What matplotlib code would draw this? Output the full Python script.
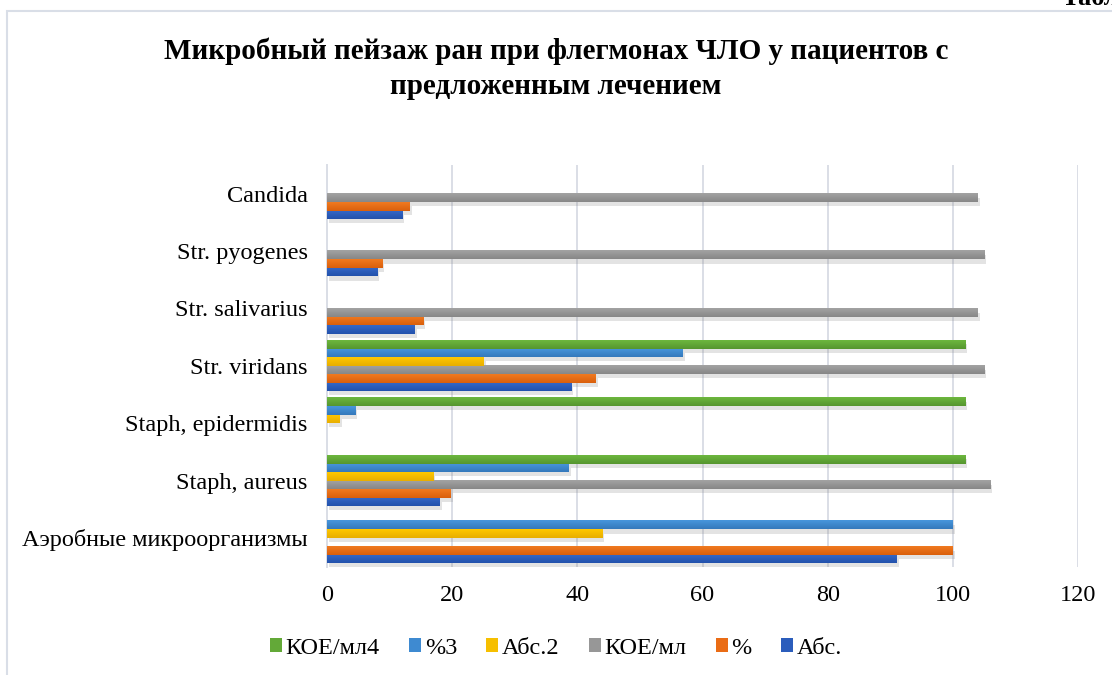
import numpy as np
import matplotlib
matplotlib.use("Agg")
import matplotlib.pyplot as plt
from matplotlib import patheffects as pe
from matplotlib.patches import Rectangle, Patch
from matplotlib.colors import LinearSegmentedColormap

# ---- data ----
categories = ["Аэробные микроорганизмы", "Staph, aureus", "Staph, epidermidis",
              "Str. viridans", "Str. salivarius", "Str. pyogenes", "Candida"]
series_names = ["Абс.", "%", "КОЕ/мл", "Абс.2", "%3", "КОЕ/мл4"]
abs1 = [91, 18, np.nan, 39, 14, 8, 12]
pct1 = [100, 19.8, np.nan, 42.9, 15.4, 8.8, 13.2]
koe1 = [np.nan, 106, np.nan, 105, 104, 105, 104]
abs2 = [44, 17, 2, 25, np.nan, np.nan, np.nan]
pct2 = [100, 38.6, 4.5, 56.8, np.nan, np.nan, np.nan]
koe2 = [np.nan, 102, 102, 102, np.nan, np.nan, np.nan]
series_values = [abs1, pct1, koe1, abs2, pct2, koe2]
colors = ["#2B5DBC", "#EA6C15", "#979797", "#F6BF00", "#3E8AD1", "#63A938"]
grad_top = ["#3568C8", "#F07A20", "#A3A3A3", "#FFC800", "#4796DC", "#6DB73E"]
grad_bot = ["#2352AC", "#DA5F0C", "#878787", "#E8AE00", "#3579BC", "#56962F"]
xticks = [0, 20, 40, 60, 80, 100, 120]

W, H = 1112, 675
plt.rcParams['font.family'] = ['Liberation Serif', 'DejaVu Serif']
fig = plt.figure(figsize=(W / 100, H / 100), dpi=100)

# outer chart frame
fig.patches.append(Rectangle((7 / W, -0.05), 1.2, 1 - 11 / H + 0.05, transform=fig.transFigure,
                             fill=False, edgecolor="#D9DEE7", linewidth=1.5))

x0, x1 = 327, 1078
ytop, ybot = 164.8, 566.7
ax = fig.add_axes([x0 / W, 1 - ybot / H, (x1 - x0) / W, (ybot - ytop) / H])

n = len(categories)
h = 0.148
y = np.arange(n)
shadow = [pe.SimplePatchShadow(offset=(1.5, -3), shadow_rgbFace="#808080", alpha=0.22), pe.Normal()]
grad = np.linspace(0, 1, 32).reshape(-1, 1)
for k, (vals, c, name) in enumerate(zip(series_values, colors, series_names)):
    bars = ax.barh(y + (k - 2.5) * h, vals, height=h, color=c, label=name, zorder=3)
    cmap = LinearSegmentedColormap.from_list(f"g{k}", [grad_top[k], grad_bot[k]])
    for b in bars:
        b.set_path_effects(shadow)
        bw = b.get_width()
        if not np.isfinite(bw) or bw <= 0:
            continue
        by, bh = b.get_y(), b.get_height()
        ax.imshow(grad, extent=[0, bw, by, by + bh], origin='upper', aspect='auto',
                  cmap=cmap, zorder=3.5, interpolation='bilinear')

ax.set_xlim(0, 120)
ax.set_ylim(-0.5, n - 0.5)
ax.set_xticks(xticks)
ax.set_yticks(y)
ax.set_yticklabels(categories)
ax.tick_params(axis='both', length=0, labelsize=17.5, colors="#000000")
ax.tick_params(axis='x', pad=13)
ax.tick_params(axis='y', pad=14)
ax.grid(axis='x', color="#DADEE6", linewidth=1.4, zorder=0)
for s in ["top", "right", "bottom"]:
    ax.spines[s].set_visible(False)
ax.spines["left"].set_color("#DADEE6")
ax.spines["left"].set_linewidth(1.4)

fig.text(0.5, 1 - 51 / H, "Микробный пейзаж ран при флегмонах ЧЛО у пациентов с",
         ha='center', va='center', fontsize=21, fontweight='bold')
fig.text(0.5, 1 - 86 / H, "предложенным лечением",
         ha='center', va='center', fontsize=21, fontweight='bold')
fig.text(1062 / W, 1 - 5 / H, "Таблица", ha='left', va='baseline', fontsize=19, fontweight='bold')

handles = [Patch(facecolor=c, label=nm) for c, nm in zip(colors, series_names)][::-1]
fig.legend(handles=handles, loc='center', bbox_to_anchor=(556 / W, 1 - 648 / H), ncol=6,
           frameon=False, fontsize=17.5, handlelength=0.5, handleheight=0.5,
           handletextpad=0.15, columnspacing=1.2)

fig.savefig("out.png", dpi=100)
